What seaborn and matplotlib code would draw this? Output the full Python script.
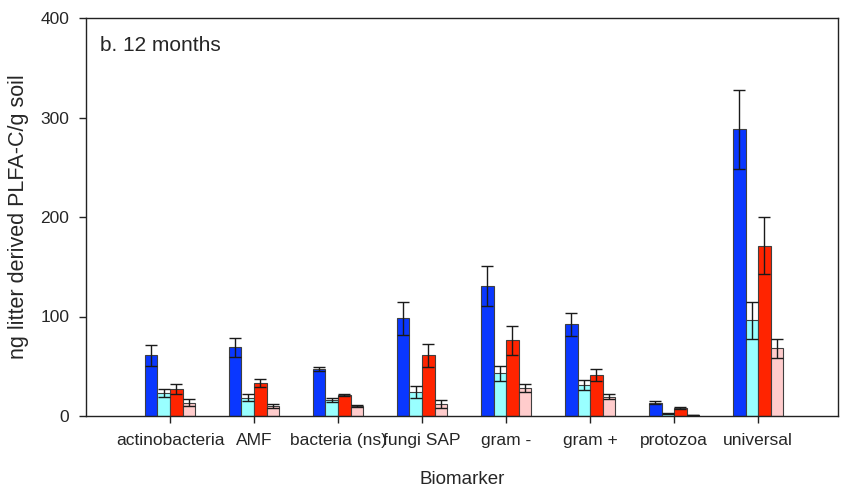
import matplotlib
matplotlib.use("Agg")
import matplotlib.pyplot as plt
import seaborn as sns
import pandas as pd
import numpy as np

categories = ["actinobacteria", "AMF", "bacteria (ns)", "fungi SAP", "gram -", "gram +", "protozoa", "universal"]
treatments = ["T1", "T2", "T3", "T4"]
t1_mean = [61, 69, 47, 98, 131, 92, 13.5, 288]
t1_err = [10.5, 9.5, 2, 17, 20, 11.5, 1.5, 40]
t2_mean = [23, 18.5, 16, 24, 43, 31.5, 2.5, 96]
t2_err = [4, 3.5, 2, 6, 7.5, 5, 0.5, 18.5]
t3_mean = [27, 33, 21, 61, 76, 41, 8.4, 171]
t3_err = [5, 4, 1, 11.5, 14.5, 6, 1, 28.5]
t4_mean = [13.5, 10, 10, 12.5, 28, 19.5, 1, 68]
t4_err = [3.5, 2, 1, 4, 4, 2.5, 0.3, 9.5]
colors = ["#0a37ff", "#99ffff", "#ff2400", "#ffcccc"]

means = [t1_mean, t2_mean, t3_mean, t4_mean]
errs = [t1_err, t2_err, t3_err, t4_err]
rows = []
for t, m, e in zip(treatments, means, errs):
    for c, mv, ev in zip(categories, m, e):
        rows.append({"Biomarker": c, "treatment": t, "value": mv, "err": ev})
df = pd.DataFrame(rows)

sns.set_theme(style="ticks")
plt.rcParams["font.family"] = ["Liberation Sans", "DejaVu Sans"]

fig = plt.figure(figsize=(8.49, 4.97), dpi=100)
ax = fig.add_axes([86/849, 1-416/497, (838-86)/849, (416-18)/497])
sns.barplot(data=df, x="Biomarker", y="value", hue="treatment", order=categories,
            hue_order=treatments, palette=colors, width=0.6, errorbar=None,
            edgecolor="#404040", linewidth=0.8, saturation=1, ax=ax, legend=False)

# error bars from bar patches
for i, t in enumerate(treatments):
    cont = ax.containers[i]
    sub = df[df.treatment == t].set_index("Biomarker").loc[categories]
    xs = [p.get_x() + p.get_width()/2 for p in cont]
    ax.errorbar(xs, sub["value"].values, yerr=sub["err"].values, fmt="none",
                ecolor="#1a1a1a", elinewidth=1, capsize=4.3, capthick=1, zorder=5)

ax.set_xlim(-1, 7.95)
ax.set_ylim(0, 400)
ax.set_yticks([0, 100, 200, 300, 400])
for s in ax.spines.values():
    s.set_visible(True)
    s.set_color("#222222")
    s.set_linewidth(1)
ax.tick_params(axis="both", labelsize=12.5, length=5, width=1, color="#222222", direction="out")
ax.tick_params(axis="x", pad=7)
ax.tick_params(axis="y", pad=7)
ax.set_xlabel("Biomarker", fontsize=13.5, labelpad=17)
ax.set_ylabel("ng litter derived PLFA-C/g soil", fontsize=15.5, labelpad=8)
ax.text(0.018, 0.93, "b. 12 months", transform=ax.transAxes, fontsize=15, va="center", ha="left")

fig.savefig("out.png", dpi=100)
